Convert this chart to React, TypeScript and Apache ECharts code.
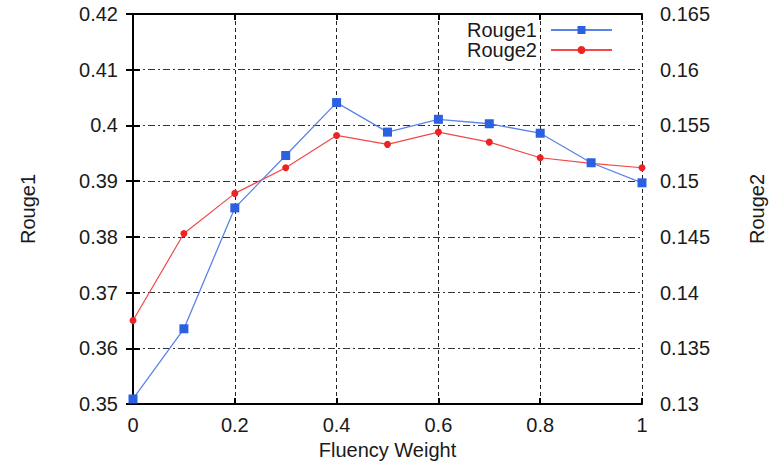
import React, { useEffect, useRef } from "react";
import * as echarts from "echarts";

const weights = [0, 0.1, 0.2, 0.3, 0.4, 0.5, 0.6, 0.7, 0.8, 0.9, 1.0];
const rouge1 = [0.3509, 0.3635, 0.3852, 0.3946, 0.4041, 0.3988, 0.4011, 0.4003, 0.3986, 0.3933, 0.3897];
const rouge2 = [0.1375, 0.1453, 0.1489, 0.1512, 0.1541, 0.1533, 0.1544, 0.1535, 0.1521, 0.1516, 0.1512];

const FONT = "'Liberation Sans', Arial, sans-serif";
const TXT = "#1a1a1a";
const FS = 20;
const fmt = (v: number) => String(parseFloat(Number(v).toFixed(4)));

export default function App() {
  const ref = useRef<HTMLDivElement>(null);
  useEffect(() => {
    document.body.style.margin = "0";
    if (!ref.current) return;
    const chart = echarts.init(ref.current, undefined, { renderer: "svg" });
    const axisLine = { show: true, lineStyle: { color: "#000", width: 2 } };
    chart.setOption({
      animation: false,
      backgroundColor: "#fff",
      textStyle: { fontFamily: FONT },
      grid: { left: 133, right: 141, top: 14, bottom: 61, containLabel: false },
      legend: {
        top: 15,
        right: 165,
        orient: "vertical",
        align: "right",
        itemWidth: 61,
        itemHeight: 10,
        itemGap: 0,
        textStyle: { fontSize: FS, color: TXT, fontFamily: FONT, padding: [0, 9, 0, 0] },
        data: ["Rouge1", "Rouge2"],
      },
      xAxis: [
        {
          type: "value",
          min: 0,
          max: 1,
          interval: 0.2,
          position: "bottom",
          name: "Fluency Weight",
          nameLocation: "middle",
          nameGap: 35,
          nameTextStyle: { fontSize: FS, color: TXT, fontFamily: FONT },
          axisLine,
          axisTick: { show: true, inside: true, length: 6, lineStyle: { color: "#000", width: 2 } },
          axisLabel: { fontSize: FS, color: TXT, margin: 11, formatter: fmt, fontFamily: FONT },
          splitLine: { show: true, lineStyle: { color: "#222", width: 1, type: [4, 3] } },
        },
        {
          type: "value",
          min: 0,
          max: 1,
          interval: 0.2,
          position: "top",
          axisLine,
          axisTick: { show: true, inside: true, length: 6, lineStyle: { color: "#000", width: 2 } },
          axisLabel: { show: false },
          splitLine: { show: false },
        },
      ],
      yAxis: [
        {
          type: "value",
          min: 0.35,
          max: 0.42,
          interval: 0.01,
          position: "left",
          name: "Rouge1",
          nameLocation: "middle",
          nameRotate: 90,
          nameGap: 95,
          nameTextStyle: { fontSize: FS, color: TXT, fontFamily: FONT },
          axisLine,
          axisTick: { show: true, inside: true, length: 7, lineStyle: { color: "#000", width: 2 } },
          axisLabel: { fontSize: FS, color: TXT, margin: 15, formatter: fmt, fontFamily: FONT },
          splitLine: { show: true, lineStyle: { color: "#333", width: 1, type: [7, 3, 2, 3] } },
        },
        {
          type: "value",
          min: 0.13,
          max: 0.165,
          interval: 0.005,
          position: "right",
          name: "Rouge2",
          nameLocation: "middle",
          nameRotate: 90,
          nameGap: 105,
          nameTextStyle: { fontSize: FS, color: TXT, fontFamily: FONT },
          axisLine,
          axisTick: { show: true, inside: true, length: 7, lineStyle: { color: "#000", width: 2 } },
          axisLabel: { fontSize: FS, color: TXT, margin: 18, formatter: fmt, fontFamily: FONT },
          splitLine: { show: false },
        },
      ],
      series: [
        {
          name: "Rouge1",
          type: "line",
          xAxisIndex: 0,
          yAxisIndex: 0,
          data: weights.map((w, i) => [w, rouge1[i]]),
          symbol: "rect",
          symbolSize: 9,
          itemStyle: { color: "#2b60e0" },
          lineStyle: { color: "#5b84e8", width: 1.3 },
          z: 3,
        },
        {
          name: "Rouge2",
          type: "line",
          xAxisIndex: 0,
          yAxisIndex: 1,
          data: weights.map((w, i) => [w, rouge2[i]]),
          symbol: "circle",
          symbolSize: 7,
          itemStyle: { color: "#ee2222" },
          lineStyle: { color: "#f24848", width: 1.2 },
          z: 2,
        },
      ],
    });
    return () => chart.dispose();
  }, []);
  return <div ref={ref} style={{ width: 783, height: 465 }} />;
}
